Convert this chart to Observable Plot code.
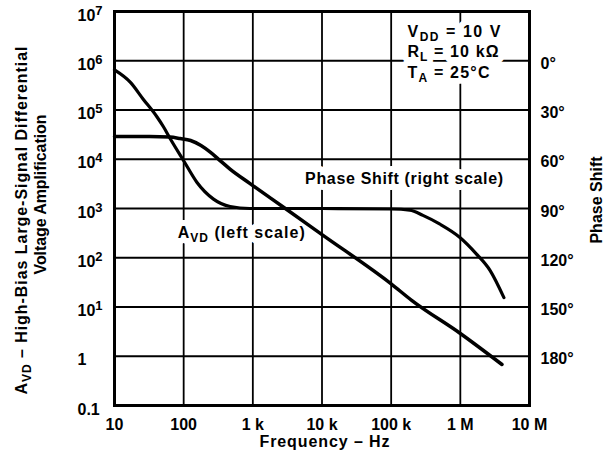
<!DOCTYPE html>
<html>
<head>
<meta charset="utf-8">
<script src="https://cdn.jsdelivr.net/npm/d3@7"></script>
<script src="https://cdn.jsdelivr.net/npm/@observablehq/plot@0.6"></script>
<style>
  body { margin: 0; background: white; }
</style>
</head>
<body>
<div id="chart"></div>
<script>
// Frequency axis
const xTicks = [10, 100, 1e3, 1e4, 1e5, 1e6, 1e7];
const xLabels = ["10", "100", "1 k", "10 k", "100 k", "1 M", "10 M"];
// Left scale (voltage amplification)
const yTicks = [0.1, 1, 10, 100, 1e3, 1e4, 1e5, 1e6, 1e7];
const yLabels = ["0.1", "1", "10^1", "10^2", "10^3", "10^4", "10^5", "10^6", "10^7"];
// Right scale (phase shift, degrees)
const phaseTicks = [0, 30, 60, 90, 120, 150, 180];
const phaseLabels = ["0°", "30°", "60°", "90°", "120°", "150°", "180°"];

// AVD (left scale)
const avdFreq = [10, 32, 63, 89, 126, 178, 245, 339, 468, 912, 2950, 10000, 100000, 200000, 1000000, 4000000];
const avdGain = [29000, 29000, 28200, 26300, 24000, 19000, 13800, 9300, 6300, 3200, 1000, 295, 29.5, 13.5, 2.9, 0.68];

// Phase shift (right scale)
const phaseFreq = [10, 17, 26, 41, 51, 64, 100, 155, 270, 470, 900, 10000, 100000, 186000, 288000, 500000, 977000, 1700000, 2700000, 4270000];
const phaseDeg = [5.6, 13.2, 23.4, 34.1, 40.2, 47.5, 60.9, 74, 84.3, 88.8, 90, 90, 90.3, 91, 94.2, 99.4, 107.5, 117.6, 127.8, 144.3];

// Texts
const legendLines = ["V_DD = 10 V", "R_L = 10 kΩ", "T_A = 25°C"];
const phaseNote = "Phase Shift (right scale)";
const avdNote = "A_VD (left scale)";
const yTitle1 = "A_VD – High-Bias Large-Signal Differential";
const yTitle2 = "Voltage Amplification";
const y2Title = "Phase Shift";
const xTitle = "Frequency – Hz";

// right scale: 30° per decade, 0° at 10^6
const phaseToY = p => 10 ** (6 - p / 30);
const rightTicks = phaseTicks.map(phaseToY);

const avdData = avdFreq.map((f, i) => ({f, v: avdGain[i]}));
const phaseData = phaseFreq.map((f, i) => ({f, v: phaseToY(phaseDeg[i])}));

const base = {text: d => d, fontSize: 16, fontWeight: "bold"};
const haloed = opts => Plot.text(opts.data, {...base, ...opts, fill: "white", stroke: "white", strokeWidth: 12});
const plain = opts => Plot.text(opts.data, {...base, ...opts, fill: "black"});

const legendY = [3.93e6, 1.49e6, 5.66e5];
const notes = [
  ...legendLines.map((s, i) => ({data: [s], x: () => 1.72e5, y: () => legendY[i], textAnchor: "start"})),
  {data: [phaseNote], x: () => 5700, y: () => 4000, textAnchor: "start"},
  {data: [avdNote], x: () => 82, y: () => 320, textAnchor: "start"}
];

const chart = Plot.plot({
  width: 605,
  height: 463,
  marginLeft: 114,
  marginRight: 76,
  marginTop: 11,
  marginBottom: 58,
  x: {type: "log", domain: [10, 1e7]},
  y: {type: "log", domain: [0.1, 1e7]},
  style: {fontFamily: "'Liberation Sans', Arial, sans-serif", fontWeight: "bold", fontSize: "16px", background: "white", color: "black"},
  marks: [
    Plot.gridX({ticks: xTicks, stroke: "black", strokeOpacity: 1, strokeWidth: 1.8}),
    Plot.gridY({ticks: yTicks, stroke: "black", strokeOpacity: 1, strokeWidth: 1.8}),
    ...notes.map(haloed),
    Plot.line(avdData, {x: "f", y: "v", stroke: "black", strokeWidth: 3.5, curve: "monotone-x"}),
    Plot.line(phaseData, {x: "f", y: "v", stroke: "black", strokeWidth: 3.2, curve: "monotone-x"}),
    ...notes.map(plain),
    Plot.frame({stroke: "black", strokeWidth: 3}),
    Plot.axisX({ticks: xTicks, tickFormat: d => xLabels[xTicks.indexOf(d)], tickSize: 0, tickPadding: 13, fontSize: 16, label: null}),
    Plot.axisY({ticks: yTicks, tickFormat: d => yLabels[yTicks.indexOf(d)], anchor: "left", tickSize: 0, tickPadding: 37, textAnchor: "start", dy: 4, fontSize: 16, label: null}),
    Plot.axisY({ticks: rightTicks, tickFormat: d => phaseLabels[rightTicks.indexOf(d)], anchor: "right", tickSize: 0, tickPadding: 11, dy: 3, fontSize: 16, label: null}),
    plain({data: [yTitle1], frameAnchor: "left", textAnchor: "middle", rotate: -90, dx: -93, dy: 12}),
    plain({data: [yTitle2], frameAnchor: "left", textAnchor: "middle", rotate: -90, dx: -73.5, dy: -14}),
    plain({data: [y2Title], frameAnchor: "right", textAnchor: "middle", rotate: -90, dx: 67, dy: -8.5}),
    plain({data: [xTitle], frameAnchor: "bottom", textAnchor: "middle", lineAnchor: "middle", dx: 2.5, dy: 36})
  ]
});

// Stretch texts to the widths seen in the reference
const textLengths = new Map([
  [yTitle1, 348], [yTitle2, 160], [xTitle, 130], [phaseNote, 198], [avdNote, 127],
  [legendLines[0], 93], [legendLines[1], 91], [legendLines[2], 82]
]);

// Render superscripts (10^n) and subscripts (A_VD) as tspans
const NS = "http://www.w3.org/2000/svg";
function tspan(parent, txt, attrs) {
  const t = document.createElementNS(NS, "tspan");
  t.textContent = txt;
  for (const k in attrs) t.setAttribute(k, attrs[k]);
  parent.appendChild(t);
}
chart.querySelectorAll("text").forEach(t => {
  if (t.querySelector("tspan")) return;
  const s = t.textContent;
  if (textLengths.has(s)) {
    t.setAttribute("textLength", textLengths.get(s));
    t.setAttribute("lengthAdjust", "spacing");
  }
  let m;
  if ((m = s.match(/^(.*)\^(.*)$/))) {
    t.textContent = "";
    tspan(t, m[1], {});
    tspan(t, m[2], {dy: "-6", "font-size": "13px"});
  } else if ((m = s.match(/^(.*?)_(\S+)(.*)$/))) {
    t.textContent = "";
    tspan(t, m[1], {});
    tspan(t, m[2], {dy: "4", "font-size": "12px"});
    if (m[3]) tspan(t, m[3], {dy: "-4"});
  }
});

document.getElementById("chart").appendChild(chart);
</script>
</body>
</html>
